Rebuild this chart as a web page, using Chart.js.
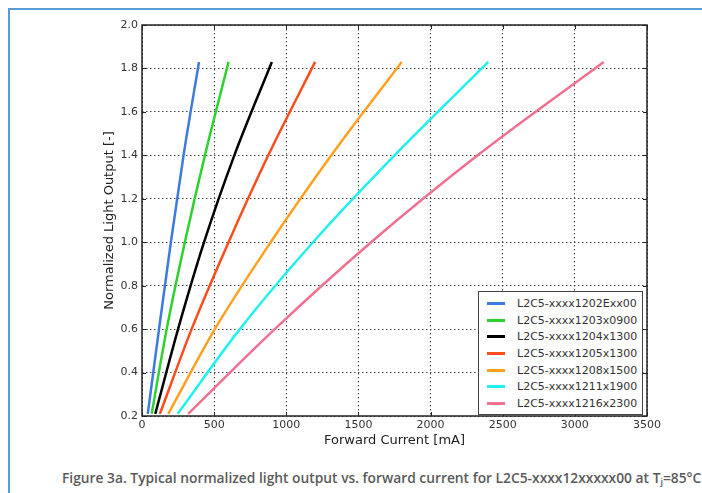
<!DOCTYPE html>
<html>
<head>
<meta charset="utf-8">
<script src="https://cdn.jsdelivr.net/npm/chart.js@4.4.1/dist/chart.umd.min.js"></script>
<style>
  body { margin: 0; width: 702px; height: 493px; background: #fff; position: relative; overflow: hidden; }
  #frame { position: absolute; left: 8px; top: 8px; width: 720px; height: 500px;
           border-top: 2px solid #5b9bd5; border-left: 2px solid #5b9bd5; }
  #wrap { position: absolute; left: 0; top: 0; width: 702px; height: 452px; }
  #legend { position: absolute; left: 478px; top: 291px; width: 163px; padding: 3px 0 2px 0;
            border: 1px solid #444; background: #fff; font: 11px "DejaVu Sans", sans-serif; color: #333; }
  .row { height: 16.7px; display: flex; align-items: center; }
  .sw { width: 18px; height: 3px; margin: 0 12px 0 8px; }
  #caption { position: absolute; left: 62px; top: 468px; white-space: nowrap;
             font: 600 13.8px "Open Sans", sans-serif; color: #5a5a5a; }
  #caption sub { font-size: 9px; vertical-align: -2px; }
</style>
</head>
<body>
<div id="frame"></div>
<div id="wrap"><canvas id="chart"></canvas></div>
<div id="legend"></div>
<div id="caption">Figure 3a. Typical normalized light output vs. forward current for L2C5-xxxx12xxxxx00 at T<sub>j</sub>=85°C</div>
<script>
// normalized output levels shared by all curves
const outputLevels = [0.21, 0.6, 1.0, 1.4, 1.83];

// forward current [mA] at each output level
const current1202 = [40, 118, 200, 288, 395];
const current1203 = [67, 171, 297, 436, 600];
const current1204 = [92, 250, 430, 640, 900];
const current1205 = [124, 344, 600, 875, 1200];
const current1208 = [182, 505, 892, 1312, 1800];
const current1211 = [247, 678, 1185, 1750, 2400];
const current1216 = [320, 920, 1588, 2326, 3200];

const seriesNames = ['L2C5-xxxx1202Exx00', 'L2C5-xxxx1203x0900', 'L2C5-xxxx1204x1300',
  'L2C5-xxxx1205x1300', 'L2C5-xxxx1208x1500', 'L2C5-xxxx1211x1900', 'L2C5-xxxx1216x2300'];
const seriesCurrents = [current1202, current1203, current1204, current1205, current1208, current1211, current1216];
const seriesColors = ['#3b7be0', '#2ed12e', '#000000', '#ff4c1c', '#ffa020', '#22f0f0', '#f0708f'];

const xTicks = [0, 500, 1000, 1500, 2000, 2500, 3000, 3500];
const yTicks = [0.2, 0.4, 0.6, 0.8, 1.0, 1.2, 1.4, 1.6, 1.8, 2.0];

const datasets = seriesNames.map(function(name, i) {
  return {
    label: name,
    data: seriesCurrents[i].map((c, k) => ({ x: c, y: outputLevels[k] })),
    borderColor: seriesColors[i],
    borderWidth: 2.5,
    showLine: true,
    pointRadius: 0,
    cubicInterpolationMode: 'monotone'
  };
});

// matplotlib style box with inward ticks
const framePlugin = {
  id: 'frame',
  afterDraw(chart) {
    const ctx = chart.ctx, a = chart.chartArea;
    const xs = chart.scales.x, ys = chart.scales.y;
    ctx.save();
    ctx.setLineDash([]);
    ctx.strokeStyle = '#222';
    ctx.lineWidth = 1.5;
    ctx.strokeRect(a.left, a.top, a.right - a.left, a.bottom - a.top);
    ctx.lineWidth = 1;
    ctx.beginPath();
    xTicks.forEach(v => {
      const px = Math.round(xs.getPixelForValue(v)) + 0.5;
      ctx.moveTo(px, a.bottom); ctx.lineTo(px, a.bottom - 4);
      ctx.moveTo(px, a.top); ctx.lineTo(px, a.top + 4);
    });
    yTicks.forEach(v => {
      const py = Math.round(ys.getPixelForValue(v)) + 0.5;
      ctx.moveTo(a.left, py); ctx.lineTo(a.left + 4, py);
      ctx.moveTo(a.right, py); ctx.lineTo(a.right - 4, py);
    });
    ctx.stroke();
    ctx.restore();
  }
};

const tickFont = { family: 'DejaVu Sans', size: 11 };
const titleFont = { family: 'DejaVu Sans', size: 13 };

new Chart(document.getElementById('chart'), {
  type: 'scatter',
  data: { datasets: datasets },
  options: {
    responsive: true,
    maintainAspectRatio: false,
    animation: false,
    layout: { padding: { left: 98, top: 25, right: 55, bottom: 0 } },
    plugins: { legend: { display: false }, tooltip: { enabled: false } },
    scales: {
      x: {
        type: 'linear', min: 0, max: 3500,
        afterBuildTicks: s => { s.ticks = xTicks.map(v => ({ value: v })); },
        afterFit: s => { s.height = 36; },
        ticks: { font: tickFont, color: '#333', padding: 3, maxRotation: 0, callback: v => String(v) },
        grid: { color: '#444', lineWidth: 1, drawTicks: false },
        border: { display: false, dash: [1.5, 2.5] },
        title: { display: true, text: 'Forward Current [mA]', font: titleFont, color: '#222', padding: 4 }
      },
      y: {
        type: 'linear', min: 0.2, max: 2.0,
        afterBuildTicks: s => { s.ticks = yTicks.map(v => ({ value: v })); },
        afterFit: s => { s.width = 44; },
        ticks: { font: tickFont, color: '#333', padding: 4, callback: v => v.toFixed(1) },
        grid: { color: '#444', lineWidth: 1, drawTicks: false },
        border: { display: false, dash: [1.5, 2.5] },
        title: { display: true, text: 'Normalized Light Output [-]', font: titleFont, color: '#222', padding: 4 }
      }
    }
  },
  plugins: [framePlugin]
});

// legend box drawn from the same series arrays
const legend = document.getElementById('legend');
seriesNames.forEach(function(name, i) {
  const row = document.createElement('div');
  row.className = 'row';
  row.innerHTML = '<span class="sw" style="background:' + seriesColors[i] + '"></span><span>' + name + '</span>';
  legend.appendChild(row);
});
</script>
</body>
</html>
